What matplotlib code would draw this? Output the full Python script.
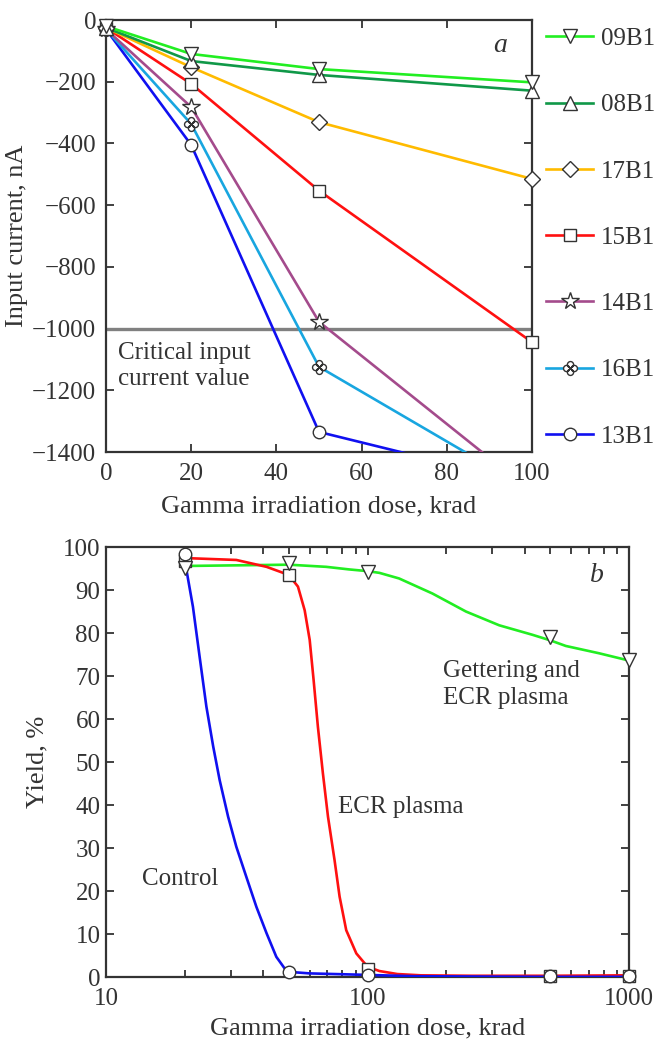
import numpy as np
import matplotlib
matplotlib.use("Agg")
import matplotlib.pyplot as plt
from matplotlib.path import Path
from matplotlib.lines import Line2D

plt.rcParams['font.family'] = ['Liberation Serif', 'DejaVu Serif']
plt.rcParams['font.size'] = 18
plt.rcParams['text.color'] = '#333333'
plt.rcParams['axes.labelcolor'] = '#333333'
plt.rcParams['xtick.color'] = '#333333'
plt.rcParams['ytick.color'] = '#333333'

# ---- panel a: input current vs dose ----
dose_a = [0, 20, 50, 100]
samples = ['09B1', '08B1', '17B1', '15B1', '14B1', '16B1', '13B1']
current = {
    '09B1': [-20, -110, -159, -202],
    '08B1': [-25, -133, -178, -229],
    '17B1': [-25, -153, -331, -515],
    '15B1': [-25, -207, -553, -1044],
    '14B1': [-30, -282, -978, -1530],
    '16B1': [-30, -337, -1124, -1527],
    '13B1': [-30, -405, -1335, -1505],
}
critical = -1000

# ---- panel b: yield vs dose ----
dose_b = [20, 50, 100, 500, 1000]
yield_control = [98.3, 1.2, 0.5, 0.2, 0.2]
yield_ecr = [96.8, 93.5, 1.9, 0.2, 0.2]
yield_getter = [95.2, 96.3, 94.1, 79.0, 73.8]

# smooth curves as drawn in the figure
curve_control_x = [20, 20.3, 21.5, 22.8, 24.2, 25.7, 27.2, 29.3, 31.5, 34.4, 37.6, 41.1, 44.8,
                   48.2, 50.3, 60, 100, 150, 300, 500, 1000]
curve_control_y = [96, 94.7, 86.1, 74.5, 62.9, 53.6, 45.8, 37.3, 30.3, 23.3, 16.3, 10.2, 4.7,
                   2.0, 1.2, 0.85, 0.5, 0.2, 0.1, 0.05, 0.05]
curve_ecr_x = [20, 20.9, 31.5, 41.1, 46.1, 50, 54.2, 57.5, 60.1, 62.2, 64.6, 67.5, 70.6, 74.8,
               78.2, 82.9, 90.6, 100, 111, 130, 160, 250, 500, 1000]
curve_ecr_y = [97.4, 97.4, 97.0, 95.4, 94.3, 93.5, 90.8, 85.3, 78.4, 69.1, 58.2, 47.4, 37.3, 27.2,
               18.7, 10.9, 5.5, 2.4, 1.4, 0.7, 0.4, 0.3, 0.3, 0.4]
curve_getter_x = [20, 50, 69.5, 85, 100, 111, 132, 177, 238, 319, 427, 500, 573, 768, 1000]
curve_getter_y = [95.6, 95.9, 95.4, 94.8, 94.4, 94.0, 92.7, 89.2, 85.0, 81.8, 79.6, 78.3, 77.0, 75.3, 73.6]

colors = {
    '09B1': '#22ee22', '08B1': '#109848', '17B1': '#ffbb00', '15B1': '#ff1010',
    '14B1': '#a44b8c', '16B1': '#18a6e0', '13B1': '#1010f0',
}

# four-circle "flower" marker
_circ = [Path.circle((dx, dy), 0.32) for dx, dy in [(0, 0.4), (0, -0.4), (0.4, 0), (-0.4, 0)]]
flower = Path.make_compound_path(*_circ)

markers = {
    '09B1': ('v', 10), '08B1': ('^', 10), '17B1': ('D', 8), '15B1': ('s', 9),
    '14B1': ('*', 13), '16B1': (flower, 10), '13B1': ('o', 9),
}
edge = '#333333'

fig = plt.figure(figsize=(6.56, 10.48), dpi=100)
ax1 = fig.add_axes([0.1616, 0.5687, 0.6494, 0.4122])
ax2 = fig.add_axes([0.1616, 0.0677, 0.7973, 0.4103])

ax1.axhline(critical, color='#808080', lw=2.4, zorder=2)
handles = []
for s in samples[::-1]:
    x = np.array(dose_a)
    y = np.array(current[s])
    ax1.plot(x, y, color=colors[s], lw=1.9, zorder=3)
    m, ms = markers[s]
    ok = y >= -1400
    ax1.plot(x[ok], y[ok], ls='none', marker=m, ms=ms, mfc='white', mec=edge,
             mew=1.0, zorder=5, clip_on=False)
for s in samples:
    m, ms = markers[s]
    handles.append(Line2D([], [], color=colors[s], lw=1.9, marker=m, ms=ms,
                          mfc='white', mec=edge, mew=1.0, label=s))

ax1.set_xlim(0, 100)
ax1.set_ylim(-1400, 0)
ax1.set_xticks(np.arange(0, 101, 20))
ax1.set_yticks(np.arange(-1400, 1, 200))
ax1.set_xlabel('Gamma irradiation dose, krad', fontsize=19)
ax1.set_ylabel('Input current, nA', fontsize=19)
ax1.xaxis.set_label_coords(0.5, -0.1)
ax1.yaxis.set_label_coords(-0.183, 0.5)
ax1.text(2.8, -1042, 'Critical input\ncurrent value', ha='left', va='top', linespacing=1.25)
ax1.text(92.5, -82, 'a', style='italic', ha='center', va='center', fontsize=20)
ax1.tick_params(axis='x', pad=8)
ax1.tick_params(axis='y', pad=7)
ax1.legend(handles=handles, loc='upper left', bbox_to_anchor=(1.015, 1.0),
           frameon=False, handlelength=1.9, handletextpad=0.3, labelspacing=1.75,
           borderpad=0.3, borderaxespad=0.0)

# panel b
ax2.plot(curve_getter_x, curve_getter_y, color='#22ee22', lw=1.9, zorder=3)
ax2.plot(curve_ecr_x, curve_ecr_y, color='#ff1010', lw=1.9, zorder=3)
ax2.plot(curve_control_x, curve_control_y, color='#1010f0', lw=1.9, zorder=3)
ax2.plot(dose_b, yield_ecr, ls='none', marker='s', ms=9, mfc='white', mec=edge,
         mew=1.0, zorder=5, clip_on=False)
ax2.plot(dose_b, yield_getter, ls='none', marker='v', ms=10, mfc='white', mec=edge,
         mew=1.0, zorder=6, clip_on=False)
ax2.plot(dose_b, yield_control, ls='none', marker='o', ms=9, mfc='white', mec=edge,
         mew=1.0, zorder=7, clip_on=False)

ax2.set_xscale('log')
ax2.set_xlim(10, 1000)
ax2.set_ylim(0, 100)
ax2.set_xticks([10, 100, 1000], ['10', '100', '1000'])
ax2.xaxis.set_minor_locator(matplotlib.ticker.LogLocator(base=10, subs=np.arange(2, 10)))
ax2.xaxis.set_minor_formatter(matplotlib.ticker.NullFormatter())
ax2.set_yticks(np.arange(0, 101, 10))
ax2.set_xlabel('Gamma irradiation dose, krad', fontsize=19)
ax2.set_ylabel('Yield, %', fontsize=19)
ax2.xaxis.set_label_coords(0.5, -0.095)
ax2.yaxis.set_label_coords(-0.111, 0.5)
ax2.text(755, 93.5, 'b', style='italic', ha='center', va='center', fontsize=20)
ax2.text(195, 73.8, 'Gettering and\nECR plasma', ha='left', va='top', linespacing=1.3)
ax2.text(77.4, 39.5, 'ECR plasma', ha='left', va='center')
ax2.text(13.7, 22.8, 'Control', ha='left', va='center')
ax2.tick_params(axis='x', pad=8)
ax2.tick_params(axis='y', pad=4)

for ax in (ax1, ax2):
    for sp in ax.spines.values():
        sp.set_linewidth(1.6)
        sp.set_color('#333333')
    ax.tick_params(which='both', direction='in', top=True, right=True, width=1.3)
    ax.tick_params(which='major', length=6)
    ax.tick_params(which='minor', length=5)

fig.savefig('out.png', dpi=100)
